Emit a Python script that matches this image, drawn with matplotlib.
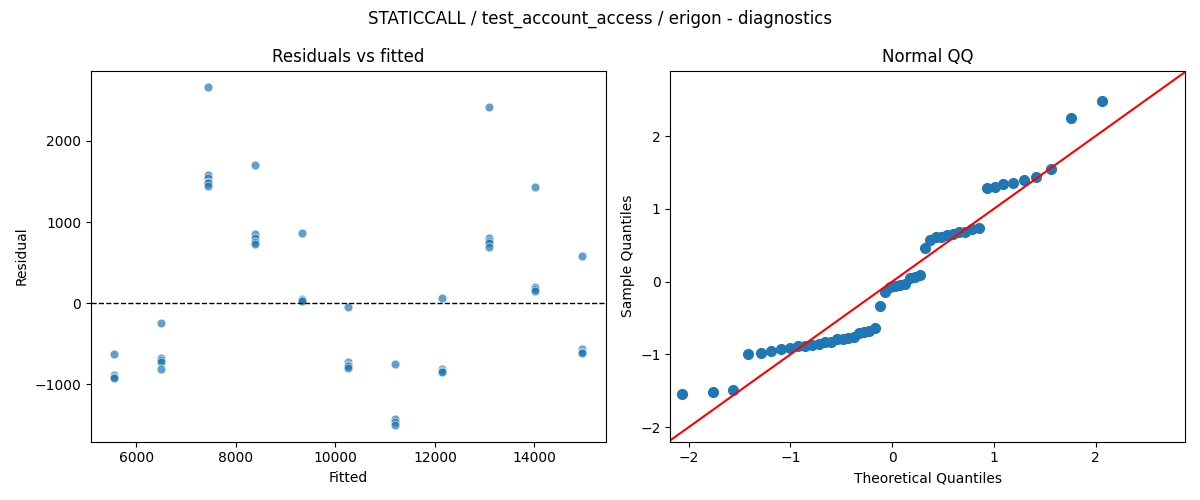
import numpy as np
import matplotlib.pyplot as plt
from statistics import NormalDist

# fitted levels and residuals
fitted_levels = [5560, 6500, 7440, 8380, 9320, 10260, 11200, 12140, 13080, 14020, 14960]
residual_groups = [
    [-630, -890, -910, -920],
    [-250, -680, -700, -720, -810],
    [2660, 1580, 1540, 1500, 1480, 1440],
    [1700, 850, 800, 760, 730],
    [860, 50, 40, 30],
    [-50, -720, -760, -780, -800],
    [-750, -1430, -1460, -1500],
    [60, -810, -840, -850],
    [2420, 810, 770, 740, 690],
    [1430, 200, 170, 150],
    [580, -560, -600, -610],
]

fitted = np.array([f for f, g in zip(fitted_levels, residual_groups) for _ in g])
resid = np.array([r for g in residual_groups for r in g], dtype=float)

fig, (ax1, ax2) = plt.subplots(1, 2, figsize=(12, 5), dpi=100)

ax1.scatter(fitted, resid, s=40, color='#1f77b4', alpha=0.7, edgecolor='white', linewidth=0.6)
ax1.axhline(0, color='black', linestyle='--', linewidth=1)
ax1.set_xlabel('Fitted')
ax1.set_ylabel('Residual')
ax1.set_title('Residuals vs fitted')

# normal QQ
n = len(resid)
sample = np.sort((resid - resid.mean()) / resid.std(ddof=1))
theo = np.array([NormalDist().inv_cdf(i / (n + 1)) for i in range(1, n + 1)])
ax2.plot(theo, sample, 'o', color='#1f77b4', markersize=7)
ax2.set_xlim(-2.18, 2.88)
ax2.set_ylim(-2.2, 2.9)
lo, hi = -3, 3
ax2.plot([lo, hi], [lo, hi], color='red', linewidth=1.5)
ax2.set_xlabel('Theoretical Quantiles')
ax2.set_ylabel('Sample Quantiles')
ax2.set_title('Normal QQ')

fig.suptitle('STATICCALL / test_account_access / erigon - diagnostics')
fig.tight_layout()
fig.savefig('out.png')
